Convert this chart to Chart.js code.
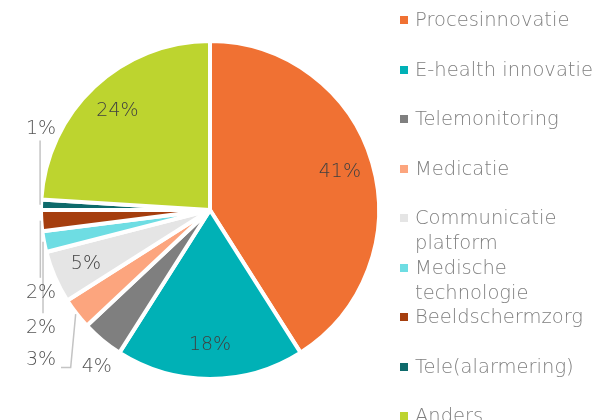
<!doctype html>
<html lang="nl">
<head>
<meta charset="utf-8">
<title>Innovaties</title>
<script src="https://cdn.jsdelivr.net/npm/chart.js"></script>
<style>
  body { margin: 0; background: #fff; width: 605px; height: 420px; overflow: hidden; position: relative; }
  #wrap { position: absolute; left: 0; top: 0; width: 420px; height: 420px; }
  #legend { position: absolute; left: 398px; top: 7px; font-family: "DejaVu Sans", sans-serif; font-weight: 200; font-size: 19.5px; color: #7f7f7f; }
  .item { height: 49.5px; line-height: 25px; position: relative; padding-left: 17px; white-space: nowrap; }
  .box { position: absolute; left: 2px; top: 9px; width: 8px; height: 8px; }
</style>
</head>
<body>
<div id="wrap"><canvas id="myChart"></canvas></div>
<div id="legend"></div>
<script>
const labels = ['Procesinnovatie', 'E-health innovatie', 'Telemonitoring', 'Medicatie',
  ['Communicatie', 'platform'], ['Medische', 'technologie'], 'Beeldschermzorg', 'Tele(alarmering)', 'Anders'];
const values = [41, 18, 4, 3, 5, 2, 2, 1, 24];
const colors = ['#F07133', '#00B1B6', '#7F7F7F', '#FCA57E', '#E5E5E5', '#6EDDE3', '#A53E0E', '#0E6A6B', '#BDD42F'];

// labels that go outside the slice (offsets in radii from the centre)
const outside = {
  2: { dx: -0.67, dy: 0.93, noLine: true },
  3: { dy: 0.89, elbow: true },
  5: { dy: 0.70 },
  6: { dy: 0.49 },
  7: { dy: -0.476 }
};

// legend
const legend = document.getElementById('legend');
labels.forEach((l, i) => {
  const d = document.createElement('div');
  d.className = 'item';
  d.innerHTML = '<span class="box" style="background:' + colors[i] + '"></span>' + (Array.isArray(l) ? l.join('<br>') : l);
  legend.appendChild(d);
});

const pctLabels = {
  id: 'pctLabels',
  afterDatasetsDraw(chart) {
    const ctx = chart.ctx;
    const meta = chart.getDatasetMeta(0);
    ctx.save();
    ctx.font = '200 19px "DejaVu Sans", sans-serif';
    ctx.textAlign = 'center';
    ctx.textBaseline = 'middle';
    meta.data.forEach((arc, i) => {
      const p = arc.getProps(['x', 'y', 'startAngle', 'endAngle', 'outerRadius'], true);
      const mid = (p.startAngle + p.endAngle) / 2;
      const r = p.outerRadius;
      const txt = values[i] + '%';
      const o = outside[i];
      if (!o) {
        ctx.fillStyle = '#404040';
        ctx.fillText(txt, p.x + Math.cos(mid) * r * 0.8, p.y + Math.sin(mid) * r * 0.8);
        return;
      }
      ctx.fillStyle = '#555555';
      if (o.noLine) {
        ctx.fillText(txt, p.x + r * o.dx, p.y + r * o.dy);
        return;
      }
      const lx = p.x - r, ly = p.y + r * o.dy;
      const ex = p.x + Math.cos(mid) * (r + 1), ey = p.y + Math.sin(mid) * (r + 1);
      ctx.fillText(txt, lx, ly);
      ctx.strokeStyle = '#c4c4c4';
      ctx.lineWidth = 1.5;
      ctx.beginPath();
      if (o.elbow) {
        ctx.moveTo(ex, ey);
        ctx.lineTo(ex - 5, ly + 7);
        ctx.lineTo(lx + 20, ly + 7);
      } else {
        ctx.moveTo(ex, ey);
        ctx.lineTo(ex, ly + (ly > ey ? -15 : 11));
      }
      ctx.stroke();
    });
    ctx.restore();
  }
};

new Chart(document.getElementById('myChart'), {
  type: 'pie',
  data: {
    labels: labels,
    datasets: [{
      data: values,
      backgroundColor: colors,
      borderColor: '#ffffff',
      borderWidth: 4,
      hoverOffset: 0
    }]
  },
  plugins: [pctLabels],
  options: {
    responsive: true,
    maintainAspectRatio: false,
    animation: false,
    layout: { padding: 39 },
    plugins: { legend: { display: false }, tooltip: { enabled: false } }
  }
});
</script>
</body>
</html>
